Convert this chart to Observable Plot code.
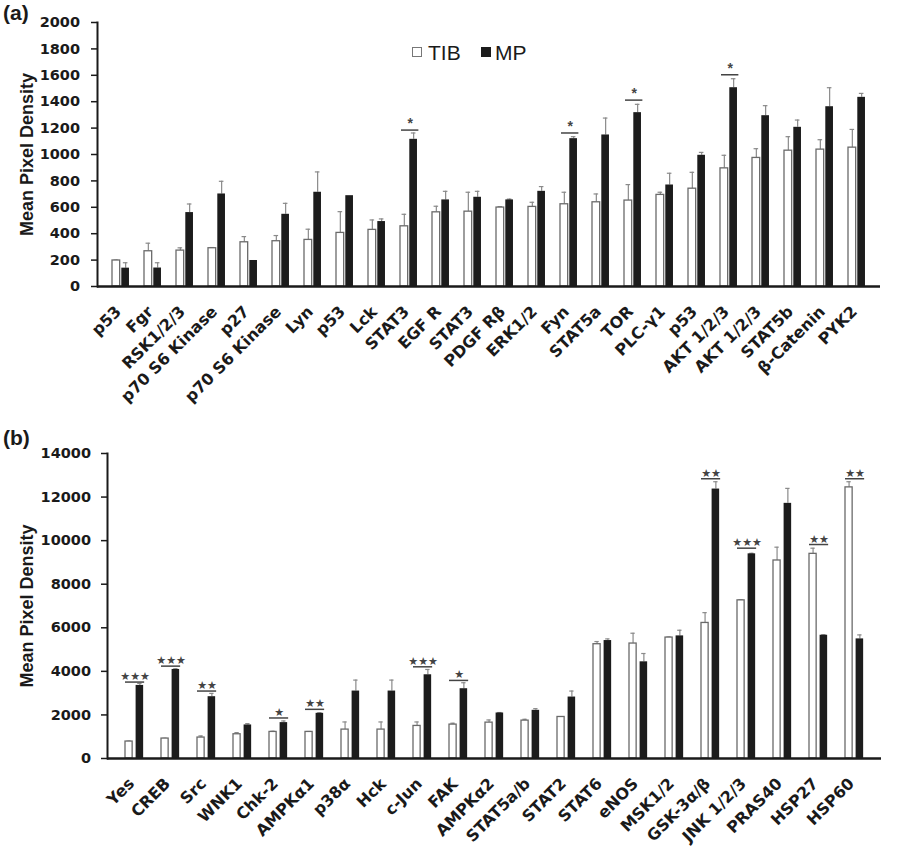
<!DOCTYPE html>
<html><head><meta charset="utf-8">
<script src="https://cdn.jsdelivr.net/npm/d3@7"></script>
<script src="https://cdn.jsdelivr.net/npm/@observablehq/plot@0.6"></script>
<style>
body{margin:0;background:#fff;}
#wrap{position:relative;width:900px;height:863px;overflow:hidden;background:#fff;}
#wrap svg{position:absolute;left:0;}
.plab{position:absolute;font-family:"Liberation Sans",Arial,sans-serif;font-weight:bold;font-size:21px;line-height:1;color:#1a1a1a;}
.leg{position:absolute;font-family:"Liberation Sans",Arial,sans-serif;font-size:21px;line-height:1;color:#1a1a1a;}
.box{position:absolute;width:9px;height:9px;}
</style></head><body><div id="wrap"></div>
<script>
// ---------- Panel (a) data ----------
const catsA = ["p53","Fgr","RSK1/2/3","p70 S6 Kinase","p27","p70 S6 Kinase","Lyn","p53","Lck","STAT3","EGF R","STAT3","PDGF Rβ","ERK1/2","Fyn","STAT5a","TOR","PLC-γ1","p53","AKT 1/2/3","AKT 1/2/3","STAT5b","β-Catenin","PYK2"];
const tibA    = [197, 267, 272, 290, 335, 343, 353, 406, 429, 456, 562, 567, 598, 603, 623, 638, 651, 694, 741, 895, 974, 1029, 1037, 1052];
const tibErrA = [200, 328, 293, 295, 378, 386, 434, 567, 504, 547, 608, 714, 605, 638, 714, 701, 772, 714, 865, 994, 1044, 1135, 1112, 1190];
const mpA     = [139, 140, 560, 701, 197, 547, 714, 688, 492, 1115, 656, 676, 656, 721, 1120, 1148, 1317, 769, 994, 1506, 1294, 1206, 1362, 1433];
const mpErrA  = [180, 180, 625, 797, 197, 630, 868, 688, 512, 1163, 721, 721, 662, 757, 1135, 1276, 1380, 858, 1016, 1574, 1370, 1261, 1506, 1463];
const sigIdxA = [9, 14, 16, 19];
const sigYA   = [1185, 1163, 1412, 1604];
const sigTxtA = ["*", "*", "*", "*"];
const yTicksA = [0, 200, 400, 600, 800, 1000, 1200, 1400, 1600, 1800, 2000];

// ---------- Panel (b) data ----------
const catsB = ["Yes","CREB","Src","WNK1","Chk-2","AMPKα1","p38α","Hck","c-Jun","FAK","AMPKα2","STAT5a/b","STAT2","STAT6","eNOS","MSK1/2","GSK-3α/β","JNK 1/2/3","PRAS40","HSP27","HSP60"];
const tibB    = [778, 915, 961, 1113, 1220, 1220, 1327, 1327, 1495, 1556, 1647, 1739, 1906, 5246, 5277, 5551, 6222, 7259, 9089, 9394, 12445];
const tibErrB = [800, 930, 1037, 1190, 1250, 1240, 1677, 1677, 1677, 1620, 1769, 1800, 1920, 5368, 5750, 5580, 6695, 7290, 9700, 9654, 12704];
const mpB     = [3355, 4087, 2837, 1540, 1647, 2074, 3096, 3096, 3843, 3203, 2089, 2211, 2821, 5414, 4438, 5628, 12368, 9394, 11712, 5658, 5490];
const mpErrB  = [3447, 4120, 2989, 1601, 1723, 2100, 3599, 3599, 4087, 3477, 2110, 2288, 3096, 5490, 4819, 5887, 12704, 9420, 12399, 5680, 5673];
const sigIdxB = [0, 1, 2, 4, 5, 8, 9, 16, 17, 19, 20];
const sigYB   = [3508, 4240, 3096, 1860, 2257, 4209, 3584, 12841, 9654, 9822, 12841];
const sigTxtB = ["★★★","★★★","★★","★","★★","★★★","★","★★","★★★","★★","★★"];
const yTicksB = [0, 2000, 4000, 6000, 8000, 10000, 12000, 14000];

const yLabel = "Mean Pixel Density";

function makePanel(c) {
  const n = c.cats.length;
  const W = 900;
  const step = (W - c.ml - c.mr) / n;
  const rows = c.cats.map((name, i) => ({i, name, tib: c.tib[i], tibErr: c.tibErr[i], mp: c.mp[i], mpErr: c.mpErr[i]}));
  const sig = c.sigIdx.map((i, k) => ({i, y: c.sigY[k], s: c.sigTxt[k]}));
  const half = step / 2;
  const tibC = (c.tibL + c.tibR) / 2, mpC = (c.mpL + c.mpR) / 2;
  const capW = 2.6;
  const errTib = rows.filter(d => d.tibErr > d.tib);
  const errMp = rows.filter(d => d.mpErr > d.mp);
  return Plot.plot({
    width: W, height: c.height,
    marginTop: c.mt, marginBottom: c.mb, marginLeft: c.ml, marginRight: c.mr,
    style: {fontFamily: "DejaVu Sans", background: "transparent", overflow: "visible", color: "#1a1a1a"},
    x: {type: "band", domain: d3.range(n), padding: 0, axis: null},
    y: {domain: [0, c.yMax], axis: null},
    marks: [
      Plot.ruleX(errTib, {x: "i", y1: "tib", y2: "tibErr", dx: tibC - half, stroke: "#8a8a8a", strokeWidth: 1.2}),
      Plot.tickY(errTib, {x: "i", y: "tibErr", insetLeft: tibC - capW, insetRight: step - tibC - capW, stroke: "#8a8a8a", strokeWidth: 1.2}),
      Plot.ruleX(errMp, {x: "i", y1: "mp", y2: "mpErr", dx: mpC - half, stroke: "#8a8a8a", strokeWidth: 1.2}),
      Plot.tickY(errMp, {x: "i", y: "mpErr", insetLeft: mpC - capW, insetRight: step - mpC - capW, stroke: "#8a8a8a", strokeWidth: 1.2}),
      Plot.barY(rows, {x: "i", y: "tib", fill: "white", stroke: "#6a6a6a", strokeWidth: 1.3, insetLeft: c.tibL, insetRight: step - c.tibR}),
      Plot.barY(rows, {x: "i", y: "mp", fill: "#1c1c1c", insetLeft: c.mpL, insetRight: step - c.mpR}),
      Plot.tickY(sig, {x: "i", y: "y", insetLeft: c.sigL, insetRight: step - c.sigR, stroke: "#444", strokeWidth: 1.5}),
      Plot.text(sig, {x: "i", y: "y", text: "s", dx: (c.sigL + c.sigR) / 2 - half, dy: -2, lineAnchor: "bottom", fontSize: c.starSize, fontWeight: "bold", fill: "#444", fontFamily: c.starFont}),
      Plot.axisY({ticks: c.yTicks, tickSize: 6, tickPadding: 12, fontSize: 14.5, fontWeight: "bold", fontFamily: "DejaVu Sans", strokeWidth: 1.5, tickFormat: d => String(d), label: null}),
      Plot.axisX({tickFormat: i => c.cats[i], tickRotate: -45, tickSize: 0, tickPadding: 6, fontSize: 16, fontWeight: "bold", fontFamily: "DejaVu Sans", label: null}),
      Plot.ruleY([0], {stroke: "#1a1a1a", strokeWidth: 2.5}),
      Plot.frame({anchor: "left", stroke: "#1a1a1a", strokeWidth: 2}),
      Plot.text([yLabel], {frameAnchor: "left", textAnchor: "middle", dx: c.labelDx, rotate: -90, fontSize: 18, fontWeight: "bold", fontFamily: "Liberation Sans, Arial, sans-serif"})
    ]
  });
}

// shift an svg element (in its parent's screen-aligned frame) by (ddx, ddy)
function shiftEl(el, ddx, ddy) {
  el.setAttribute("transform", `translate(${ddx},${ddy}) ` + (el.getAttribute("transform") || ""));
}

// fine placement of tick labels and the y title, measured after render
function placeLabels(svg, c) {
  const sr = svg.getBoundingClientRect();
  const xs = svg.scale("x"), ys = svg.scale("y");
  const y0 = ys.apply(0);
  const gx = svg.querySelector('g[aria-label="x-axis tick label"]');
  if (gx) gx.querySelectorAll("text").forEach((t, k) => {
    const r = t.getBoundingClientRect();
    const cx = xs.apply(k) + xs.bandwidth / 2;
    shiftEl(t, cx + c.labRight - (r.right - sr.left), y0 + c.labTop - (r.top - sr.top));
  });
  const gy = svg.querySelector('g[aria-label="y-axis tick label"]');
  if (gy) gy.querySelectorAll("text").forEach(t => {
    const r = t.getBoundingClientRect();
    shiftEl(t, c.ml - c.yTickGap - (r.right - sr.left), 0);
  });
  svg.querySelectorAll("text").forEach(t => {
    if (t.textContent === yLabel) {
      const r = t.getBoundingClientRect();
      shiftEl(t, c.titleLeft - (r.left - sr.left), 0);
    }
  });
}

const wrap = document.getElementById("wrap");

const cfgB = {
  cats: catsB, tib: tibB, tibErr: tibErrB, mp: mpB, mpErr: mpErrB,
  sigIdx: sigIdxB, sigY: sigYB, sigTxt: sigTxtB, yMax: 14000, yTicks: yTicksB,
  height: 473, mt: 63, mb: 105, ml: 107, mr: 19,
  tibL: 9, tibR: 17, mpL: 19.6, mpR: 28, sigL: 9, sigR: 29,
  starSize: 11, starFont: "DejaVu Sans", labelDx: -80,
  labRight: 4, labTop: 16, yTickGap: 16, titleLeft: 16.5
};
const plotB = makePanel(cfgB);
plotB.style.top = "390px";
wrap.appendChild(plotB);
placeLabels(plotB, cfgB);

const cfgA = {
  cats: catsA, tib: tibA, tibErr: tibErrA, mp: mpA, mpErr: mpErrA,
  sigIdx: sigIdxA, sigY: sigYA, sigTxt: sigTxtA, yMax: 2000, yTicks: yTicksA,
  height: 390, mt: 22, mb: 104, ml: 97, mr: 20,
  tibL: 7, tibR: 15.3, mpL: 16.3, mpR: 24.6, sigL: 8, sigR: 26,
  starSize: 14, starFont: "Liberation Sans, Arial, sans-serif", labelDx: -70,
  labRight: 4, labTop: 16, yTickGap: 17, titleLeft: 16.5
};
const plotA = makePanel(cfgA);
plotA.style.top = "0px";
wrap.appendChild(plotA);
placeLabels(plotA, cfgA);

// panel letters and legend
function addDiv(cls, text, left, top, extra) {
  const d = document.createElement("div");
  d.className = cls; d.textContent = text;
  d.style.left = left + "px"; d.style.top = top + "px";
  if (extra) Object.assign(d.style, extra);
  wrap.appendChild(d);
  return d;
}
addDiv("plab", "(a)", 3, 2);
addDiv("plab", "(b)", 3, 427);
addDiv("box", "", 412, 47, {border: "1.3px solid #777", background: "#fff", width: "8px", height: "8px"});
addDiv("leg", "TIB", 428, 42);
addDiv("box", "", 481, 47, {background: "#1c1c1c", width: "10px", height: "10px"});
addDiv("leg", "MP", 495, 42);
</script></body></html>
